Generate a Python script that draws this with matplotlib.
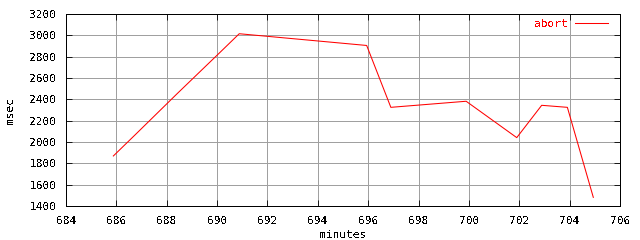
import matplotlib
matplotlib.use("Agg")
import matplotlib.pyplot as plt

# abort latency samples (minutes, msec)
MINUTES = [685.88, 686.74, 688.40, 690.08, 690.88, 695.94, 696.90, 699.89, 701.90, 702.89, 703.91, 704.94]
ABORT = [1869, 2066, 2450, 2832, 3015, 2905, 2325, 2382, 2041, 2344, 2325, 1481]

XTICKS = list(range(684, 707, 2))
YTICKS = list(range(1400, 3201, 200))

plt.rcParams['font.family'] = ['DejaVu Sans Mono']
plt.rcParams['font.size'] = 8
plt.rcParams['text.antialiased'] = False

fig = plt.figure(figsize=(6.4, 2.4), dpi=100)
ax = fig.add_axes([66/640, 34/240, 554/640, 192/240])

ax.plot(MINUTES, ABORT, color='red', lw=0.75, label='abort')

ax.set_xlim(684, 706)
ax.set_ylim(1400, 3200)
ax.set_xticks(XTICKS)
ax.set_yticks(YTICKS)
ax.grid(True, color='#a0a0a0', lw=0.6, antialiased=False)
ax.set_axisbelow(True)
ax.tick_params(direction='in', length=4, width=0.6, top=True, right=True,
               labeltop=False, labelright=False, pad=7)
for s in ax.spines.values():
    s.set_linewidth(0.6)
    s.set_antialiased(False)

ax.set_xlabel('minutes', labelpad=3)
ax.set_ylabel('msec', labelpad=10)

leg = ax.legend(loc='upper right', bbox_to_anchor=(0.993, 1.015), frameon=False,
                markerfirst=False, handlelength=3.0, labelcolor='red',
                borderaxespad=0.3, handletextpad=0.6)

fig.savefig('out.png', dpi=100)
